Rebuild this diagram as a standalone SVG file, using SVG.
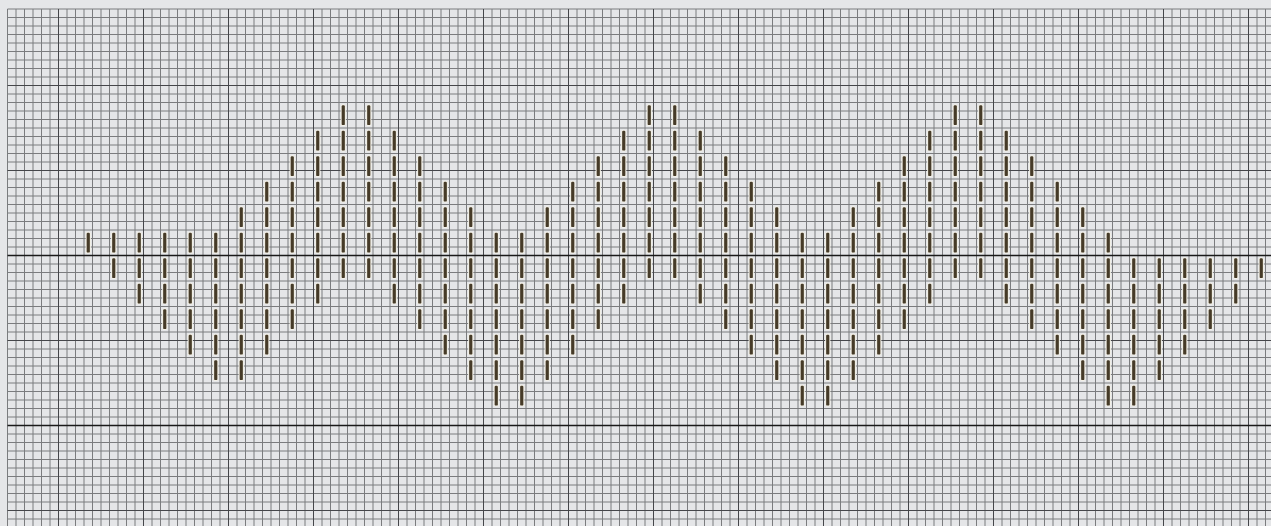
<svg xmlns="http://www.w3.org/2000/svg" width="1271" height="526" viewBox="0 0 1271 526">
<style>
.minor{fill:none;stroke:#7b7c7e;stroke-width:1}
.major{fill:none;stroke:#45464a;stroke-width:1}
.axis{fill:none;stroke:#1a1a1a;stroke-width:1.6}
.st{fill:#463b28;stroke:#f3f0e6;stroke-width:2;paint-order:stroke}
</style>
<defs>
<rect id="s" class="st" x="-1.6" y="2.8" width="3.2" height="19.8" rx="1.2"/>
<g id="c1"><use href="#s"/></g>
<g id="c2"><use href="#c1"/><use href="#s" y="25.5"/></g>
<g id="c3"><use href="#c2"/><use href="#s" y="51"/></g>
<g id="c4"><use href="#c3"/><use href="#s" y="76.5"/></g>
<g id="c5"><use href="#c4"/><use href="#s" y="102"/></g>
<g id="c6"><use href="#c5"/><use href="#s" y="127.5"/></g>
<g id="c7"><use href="#c6"/><use href="#s" y="153"/></g>
</defs>
<rect width="1271" height="526" fill="#e5e6e8"/>
<g id="grid">
<path class="minor" d="M7.5 9V526M16 9V526M24.5 9V526M33 9V526M41.5 9V526M50 9V526M67 9V526M75.5 9V526M84 9V526M92.5 9V526M101 9V526M109.5 9V526M118 9V526M126.5 9V526M135 9V526M152 9V526M160.5 9V526M169 9V526M177.5 9V526M186 9V526M194.5 9V526M203 9V526M211.5 9V526M220 9V526M237 9V526M245.5 9V526M254 9V526M262.5 9V526M271 9V526M279.5 9V526M288 9V526M296.5 9V526M305 9V526M322 9V526M330.5 9V526M339 9V526M347.5 9V526M356 9V526M364.5 9V526M373 9V526M381.5 9V526M390 9V526M407 9V526M415.5 9V526M424 9V526M432.5 9V526M441 9V526M449.5 9V526M458 9V526M466.5 9V526M475 9V526M492 9V526M500.5 9V526M509 9V526M517.5 9V526M526 9V526M534.5 9V526M543 9V526M551.5 9V526M560 9V526M577 9V526M585.5 9V526M594 9V526M602.5 9V526M611 9V526M619.5 9V526M628 9V526M636.5 9V526M645 9V526M662 9V526M670.5 9V526M679 9V526M687.5 9V526M696 9V526M704.5 9V526M713 9V526M721.5 9V526M730 9V526M747 9V526M755.5 9V526M764 9V526M772.5 9V526M781 9V526M789.5 9V526M798 9V526M806.5 9V526M815 9V526M832 9V526M840.5 9V526M849 9V526M857.5 9V526M866 9V526M874.5 9V526M883 9V526M891.5 9V526M900 9V526M917 9V526M925.5 9V526M934 9V526M942.5 9V526M951 9V526M959.5 9V526M968 9V526M976.5 9V526M985 9V526M1002 9V526M1010.5 9V526M1019 9V526M1027.5 9V526M1036 9V526M1044.5 9V526M1053 9V526M1061.5 9V526M1070 9V526M1087 9V526M1095.5 9V526M1104 9V526M1112.5 9V526M1121 9V526M1129.5 9V526M1138 9V526M1146.5 9V526M1155 9V526M1172 9V526M1180.5 9V526M1189 9V526M1197.5 9V526M1206 9V526M1214.5 9V526M1223 9V526M1231.5 9V526M1240 9V526M1257 9V526M1265.5 9V526"/>
<path class="minor" d="M7.5 9H1271M7.5 17.5H1271M7.5 26H1271M7.5 34.5H1271M7.5 43H1271M7.5 51.5H1271M7.5 60H1271M7.5 68.5H1271M7.5 77H1271M7.5 94H1271M7.5 102.5H1271M7.5 111H1271M7.5 119.5H1271M7.5 128H1271M7.5 136.5H1271M7.5 145H1271M7.5 153.5H1271M7.5 162H1271M7.5 179H1271M7.5 187.5H1271M7.5 196H1271M7.5 204.5H1271M7.5 213H1271M7.5 221.5H1271M7.5 230H1271M7.5 238.5H1271M7.5 247H1271M7.5 264H1271M7.5 272.5H1271M7.5 281H1271M7.5 289.5H1271M7.5 298H1271M7.5 306.5H1271M7.5 315H1271M7.5 323.5H1271M7.5 332H1271M7.5 349H1271M7.5 357.5H1271M7.5 366H1271M7.5 374.5H1271M7.5 383H1271M7.5 391.5H1271M7.5 400H1271M7.5 408.5H1271M7.5 417H1271M7.5 434H1271M7.5 442.5H1271M7.5 451H1271M7.5 459.5H1271M7.5 468H1271M7.5 476.5H1271M7.5 485H1271M7.5 493.5H1271M7.5 502H1271M7.5 519H1271"/>
<path class="major" d="M58.5 9V526M143.5 9V526M228.5 9V526M313.5 9V526M398.5 9V526M483.5 9V526M568.5 9V526M653.5 9V526M738.5 9V526M823.5 9V526M908.5 9V526M993.5 9V526M1078.5 9V526M1163.5 9V526M1248.5 9V526M7.5 85.5H1271M7.5 170.5H1271M7.5 340.5H1271M7.5 510.5H1271"/>
<path class="axis" d="M7.5 255.5H1271M7.5 425.5H1271"/>
</g>
<g id="stitches">
<use href="#c1" x="88.25" y="230"/>
<use href="#c2" x="113.75" y="230"/>
<use href="#c3" x="139.25" y="230"/>
<use href="#c4" x="164.75" y="230"/>
<use href="#c5" x="190.25" y="230"/>
<use href="#c6" x="215.75" y="230"/>
<use href="#c7" x="241.25" y="204.5"/>
<use href="#c7" x="266.75" y="179"/>
<use href="#c7" x="292.25" y="153.5"/>
<use href="#c7" x="317.75" y="128"/>
<use href="#c7" x="343.25" y="102.5"/>
<use href="#c7" x="368.75" y="102.5"/>
<use href="#c7" x="394.25" y="128"/>
<use href="#c7" x="419.75" y="153.5"/>
<use href="#c7" x="445.25" y="179"/>
<use href="#c7" x="470.75" y="204.5"/>
<use href="#c7" x="496.25" y="230"/>
<use href="#c7" x="521.75" y="230"/>
<use href="#c7" x="547.25" y="204.5"/>
<use href="#c7" x="572.75" y="179"/>
<use href="#c7" x="598.25" y="153.5"/>
<use href="#c7" x="623.75" y="128"/>
<use href="#c7" x="649.25" y="102.5"/>
<use href="#c7" x="674.75" y="102.5"/>
<use href="#c7" x="700.25" y="128"/>
<use href="#c7" x="725.75" y="153.5"/>
<use href="#c7" x="751.25" y="179"/>
<use href="#c7" x="776.75" y="204.5"/>
<use href="#c7" x="802.25" y="230"/>
<use href="#c7" x="827.75" y="230"/>
<use href="#c7" x="853.25" y="204.5"/>
<use href="#c7" x="878.75" y="179"/>
<use href="#c7" x="904.25" y="153.5"/>
<use href="#c7" x="929.75" y="128"/>
<use href="#c7" x="955.25" y="102.5"/>
<use href="#c7" x="980.75" y="102.5"/>
<use href="#c7" x="1006.25" y="128"/>
<use href="#c7" x="1031.75" y="153.5"/>
<use href="#c7" x="1057.25" y="179"/>
<use href="#c7" x="1082.75" y="204.5"/>
<use href="#c7" x="1108.25" y="230"/>
<use href="#c6" x="1133.75" y="255.5"/>
<use href="#c5" x="1159.25" y="255.5"/>
<use href="#c4" x="1184.75" y="255.5"/>
<use href="#c3" x="1210.25" y="255.5"/>
<use href="#c2" x="1235.75" y="255.5"/>
<use href="#c1" x="1261.25" y="255.5"/>
</g>
</svg>
